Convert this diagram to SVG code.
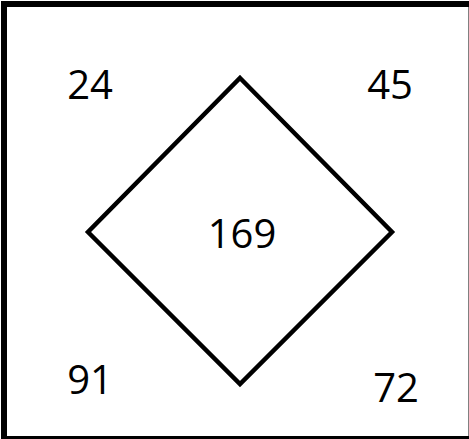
<svg xmlns="http://www.w3.org/2000/svg" width="469" height="439" viewBox="0 0 469 439">
<style>
.lbl{font-family:"Open Sans","Liberation Sans",sans-serif;font-size:40px;fill:#000;text-anchor:middle}
.shape{fill:none;stroke:#000}
</style>
<rect x="0" y="0" width="469" height="439" fill="#fff"/>
<g id="frame"><rect class="shape" x="4" y="4" width="467.5" height="435" stroke-width="6"/></g>
<g id="diamond"><polygon class="shape" points="240,78 392,232 240,384 88,232" stroke-width="4.5"/><text class="lbl" x="242" y="248">169</text></g>
<g id="n24"><text class="lbl" x="90" y="99">24</text></g>
<g id="n45"><text class="lbl" x="390" y="99">45</text></g>
<g id="n91"><text class="lbl" x="90" y="394">91</text></g>
<g id="n72"><text class="lbl" x="396" y="402">72</text></g>
<g id="connectors"></g>
</svg>
